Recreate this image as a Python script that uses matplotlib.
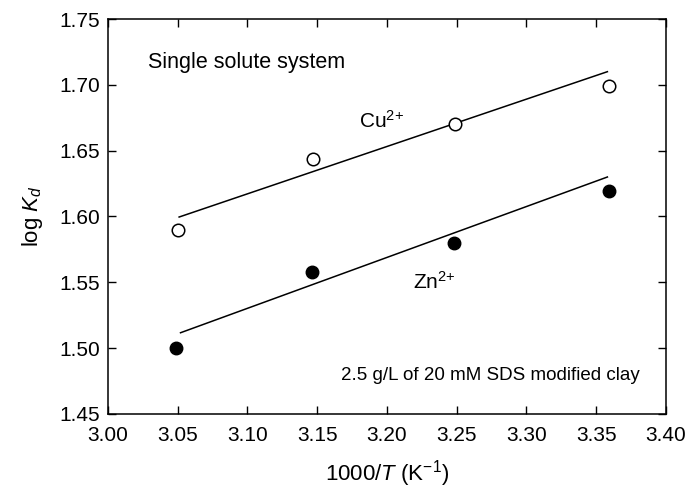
import matplotlib
matplotlib.use("Agg")
import matplotlib.pyplot as plt

plt.rcParams.update({
    "font.family": ["Liberation Sans", "DejaVu Sans"],
    "mathtext.fontset": "custom",
    "mathtext.rm": "Liberation Sans",
    "mathtext.it": "Liberation Sans:italic",
})

# data
inv_T_cu = [3.050, 3.147, 3.249, 3.359]
logkd_cu = [1.590, 1.644, 1.670, 1.699]
inv_T_zn = [3.049, 3.146, 3.248, 3.359]
logkd_zn = [1.500, 1.558, 1.580, 1.619]

# fitted lines (end points)
fit_x_cu = [3.051, 3.358]
fit_y_cu = [1.5996, 1.710]
fit_x_zn = [3.052, 3.358]
fit_y_zn = [1.5117, 1.630]

xticks = [3.00, 3.05, 3.10, 3.15, 3.20, 3.25, 3.30, 3.35, 3.40]
yticks = [1.45, 1.50, 1.55, 1.60, 1.65, 1.70, 1.75]

fig = plt.figure(figsize=(6.9, 4.94), dpi=100)
ax = fig.add_axes([0.1565, 0.162, 0.8087, 0.7995])

ax.plot(fit_x_cu, fit_y_cu, color='k', lw=1.1)
ax.plot(fit_x_zn, fit_y_zn, color='k', lw=1.1)
ax.plot(inv_T_cu, logkd_cu, 'o', ms=9, mfc='white', mec='k', mew=1.1, ls='none')
ax.plot(inv_T_zn, logkd_zn, 'o', ms=9, mfc='k', mec='k', ls='none')

ax.set_xlim(3.00, 3.40)
ax.set_ylim(1.45, 1.75)
ax.set_xticks(xticks)
ax.set_yticks(yticks)
ax.set_xticklabels(['%.2f' % v for v in xticks])
ax.set_yticklabels(['%.2f' % v for v in yticks])
ax.tick_params(direction='in', top=True, right=True, length=6, width=1,
               labelsize=15)
ax.tick_params(axis='x', pad=9)
ax.tick_params(axis='y', pad=6)
for s in ax.spines.values():
    s.set_linewidth(1.1)

ax.set_xlabel(r'1000/$\mathit{T}$ (K$^{-1}$)', fontsize=16, labelpad=9)
ax.set_ylabel(r'log $\mathit{K}_d$', fontsize=16, labelpad=10)

ax.text(3.029, 1.717, 'Single solute system', fontsize=15.5, va='center', ha='left')
ax.text(3.180, 1.673, r'Cu$^{2{+}}$', fontsize=15, va='center', ha='left')
ax.text(3.219, 1.550, r'Zn$^{2{+}}$', fontsize=15, va='center', ha='left')
ax.text(3.381, 1.4796, '2.5 g/L of 20 mM SDS modified clay', fontsize=13.5,
        va='center', ha='right')

fig.savefig('out.png', dpi=100)
